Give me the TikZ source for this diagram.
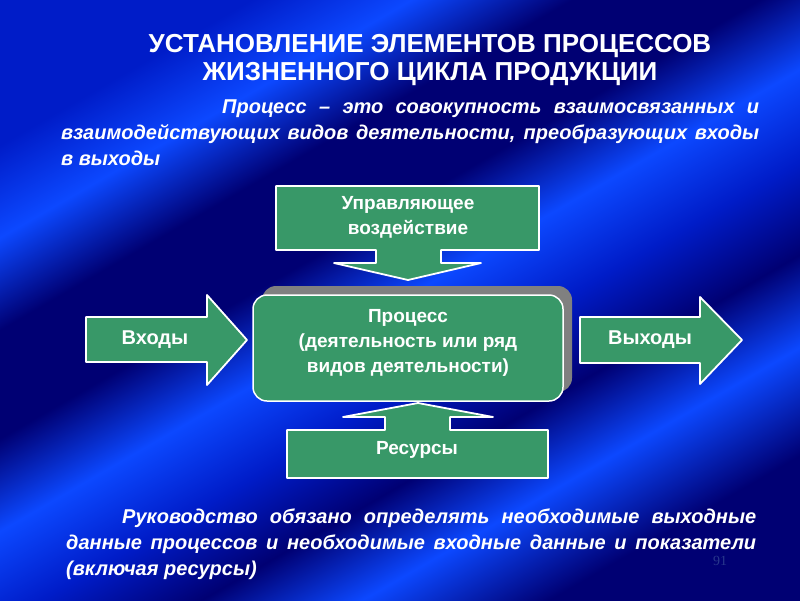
\documentclass[tikz,border=0pt]{standalone}
\usepackage{fontspec}
\setmainfont{Liberation Sans}
\newfontfamily\pagenumfont{Liberation Serif}

\definecolor{bgdark}{RGB}{0,0,115}
\definecolor{bgmid}{RGB}{0,28,200}
\definecolor{bglight}{RGB}{12,72,255}
\definecolor{boxgreen}{RGB}{56,152,104}
\definecolor{boxshadow}{RGB}{128,128,128}
\definecolor{pagenum}{RGB}{40,55,140}

\pgfdeclarehorizontalshading{slidebg}{100bp}{color(0bp)=(bgmid); color(25bp)=(bgmid); color(31bp)=(bglight); color(37bp)=(bgdark); color(44bp)=(bgdark); color(50bp)=(bglight); color(56bp)=(bgmid); color(62bp)=(bgdark); color(68bp)=(bglight); color(75bp)=(bgdark); color(100bp)=(bgdark)}

\tikzset{
  greenshape/.style={fill=boxgreen, draw=white, line width=1.8pt, line join=round},
  boxtext/.style={text=white, align=center, inner sep=0pt,
    font=\bfseries\fontsize{19}{25}\selectfont},
  slidetext/.style={text=white, align=justify, inner sep=0pt, anchor=north west,
    font=\bfseries\itshape\fontsize{20}{26}\selectfont},
  titletext/.style={text=white, align=center, inner sep=0pt,
    font=\bfseries\fontsize{26}{28}\selectfont}
}

\begin{document}
\begin{tikzpicture}[x=1pt,y=-1pt]
% background
\shade[shading=slidebg, shading angle=-60] (0,0) rectangle (800,600);
\useasboundingbox (0,0) rectangle (800,600);

% heading and definition
\node[titletext] (title) at (430,60) {УСТАНОВЛЕНИЕ ЭЛЕМЕНТОВ ПРОЦЕССОВ\\ЖИЗНЕННОГО ЦИКЛА ПРОДУКЦИИ};
\node[slidetext, text width=698pt] (def) at (61,100) {\hspace*{161pt}Процесс – это совокупность взаимосвязанных и\linebreak взаимодействующих видов деятельности, преобразующих входы\linebreak в выходы};

% process box
\fill[boxshadow, rounded corners=14pt] (262,286) rectangle (572,392);
\draw[greenshape, line width=1.5pt, rounded corners=14pt] (253,295) rectangle (563,401);
\node[boxtext] (proc) at (408,343) {Процесс\\(деятельность или ряд\\видов деятельности)};

% control from above
\draw[greenshape] (276,186) -- (539,186) -- (539,250) -- (441,250) -- (441,263) -- (481,263)
  -- (408,280) -- (334,263) -- (376,263) -- (376,250) -- (276,250) -- cycle;
\node[boxtext] (ctrl) at (408,217) {Управляющее\\воздействие};

% inputs and outputs
\draw[greenshape] (86,317) -- (207,317) -- (207,295) -- (247,340) -- (207,385) -- (207,362) -- (86,362) -- cycle;
\node[boxtext, font=\bfseries\fontsize{20}{25}\selectfont] (inp) at (155,340) {Входы};
\draw[greenshape] (580,317) -- (700,317) -- (700,297) -- (742,340) -- (700,384) -- (700,363) -- (580,363) -- cycle;
\node[boxtext, font=\bfseries\fontsize{20}{25}\selectfont] (outp) at (650,340) {Выходы};

% resources from below
\draw[greenshape] (287,478) -- (287,430) -- (385,430) -- (385,417) -- (343,417) -- (418,403)
  -- (493,417) -- (450,417) -- (450,430) -- (548,430) -- (548,478) -- cycle;
\node[boxtext] (res) at (417,450) {Ресурсы};

% note
\node[slidetext, text width=690pt] (duty) at (66,509) {\hspace*{56pt}Руководство обязано определять необходимые выходные\linebreak данные процессов и необходимые входные данные и показатели\linebreak (включая ресурсы)};
\node[text=pagenum, inner sep=0pt, font=\pagenumfont\fontsize{14}{14}\selectfont] (pnum) at (720,561) {91};
\end{tikzpicture}
\end{document}
